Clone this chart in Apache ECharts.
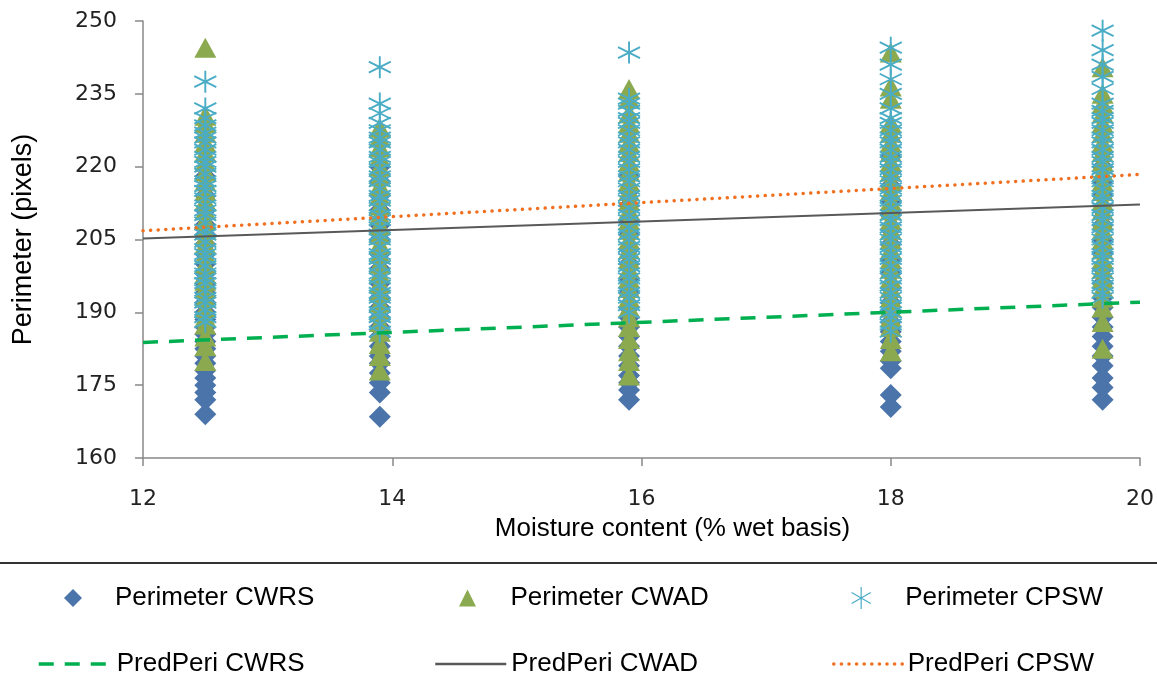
<!DOCTYPE html>
<html>
<head>
<meta charset="utf-8">
<script src="https://cdn.jsdelivr.net/npm/echarts@6/dist/echarts.min.js"></script>
<style>
  html, body { margin: 0; padding: 0; background: #fff; }
  #chart { width: 1157px; height: 675px; }
</style>
</head>
<body>
<div id="chart"></div>
<script>
// moisture levels (% wet basis) where the kernels were measured
const moistureLevels = [12.5, 13.9, 15.9, 18.0, 19.7]

// perimeter readings (pixels), one list per moisture level
const perimeterCWRS = [
  [169, 172, 173.5, 175, 176.5, 178, 179.5, 181, 182.5, 184, 185.5, 187, 188.5, 190, 192, 194, 196, 198, 200, 202, 204, 206, 208, 211, 214, 218],
  [168.5, 173.5, 175.5, 177.5, 179.5, 181, 183, 185, 187, 189, 191, 193, 196, 199, 202, 205, 208, 211, 214, 217, 220],
  [172, 174, 175.5, 177, 179, 181, 183, 185, 187, 189, 191, 194, 197, 200, 203, 206, 209, 212, 215, 218],
  [170.5, 173, 178.5, 180, 182, 184, 186, 188, 190, 192, 195, 198, 201, 204, 207, 210, 213, 216, 219, 222],
  [172, 174.5, 176.5, 179, 181, 183, 185, 187, 189, 191, 193, 196, 199, 202, 205, 208, 211, 214, 217, 220, 223],
]
const perimeterCWAD = [
  [180, 183, 185, 187.5, 189, 191, 193, 195, 196.5, 198, 200, 202, 204, 205.5, 207, 209, 211, 213, 215, 217, 219, 221, 223, 225, 227, 229, 230.5, 244.5],
  [178, 181, 183.5, 186, 188, 190, 192, 194, 196, 198, 200, 202, 204, 206, 208, 210, 212, 214, 216, 218, 220, 222, 224, 226, 228],
  [177, 180, 182, 184.5, 187, 189, 191, 193, 195, 197, 199, 201, 203, 205, 207, 209, 211, 213, 215, 217, 219, 221, 223, 225, 227, 229, 231, 234, 236],
  [182, 184.5, 187, 189, 191, 193, 195, 197, 199, 201, 203, 205, 207, 209, 211, 213, 215, 217, 219, 221, 223, 225, 227, 229, 234, 236.5, 243.5],
  [182.5, 188, 191, 193, 195, 197, 199, 201, 203, 205, 207, 209, 211, 213, 215, 217, 219, 221, 223, 225, 227, 229, 231, 233, 235, 240.5],
]
const perimeterCPSW = [
  [188, 189, 190.5, 192, 193, 194.5, 196, 197, 198, 199.5, 201, 202, 203, 204.5, 206, 207, 208.5, 210, 211, 212, 213.5, 215, 216, 217, 218.5, 220, 221, 222, 223.5, 225, 226, 227, 228.5, 230, 232, 237.5],
  [186, 187.5, 189, 190, 191.5, 193, 194, 195.5, 197, 198, 199.5, 201, 202, 203.5, 205, 206, 207.5, 209, 210, 211.5, 213, 214, 215.5, 217, 218, 219.5, 221, 222, 223.5, 225, 226, 227.5, 229, 231, 233, 240.5],
  [190, 191.5, 193, 194, 195.5, 197, 198, 199.5, 201, 202, 203.5, 205, 206, 207.5, 209, 210, 211.5, 213, 214, 215.5, 217, 218, 219.5, 221, 222, 223.5, 225, 226, 227.5, 229, 230, 231.5, 233, 234, 243.5],
  [186, 187.5, 189, 190, 191.5, 193, 194, 195.5, 197, 198, 199.5, 201, 202, 203.5, 205, 206, 207.5, 209, 210, 211.5, 213, 214, 215.5, 217, 218, 219.5, 221, 222, 223.5, 225, 226, 227.5, 229, 230, 232, 235, 238, 241, 244.5],
  [193, 194, 195.5, 197, 198, 199.5, 201, 202, 203.5, 205, 206, 207.5, 209, 210, 211.5, 213, 214, 215.5, 217, 218, 219.5, 221, 222, 223.5, 225, 226, 227.5, 229, 230, 231.5, 233, 236, 238.5, 241, 244, 248],
]

// fitted lines, value at moisture 12 and 20
const predRange = [12, 20]
const predCWRS = [183.8, 192.1]
const predCWAD = [205.2, 212.2]
const predCPSW = [206.8, 218.4]

const xTicks = { min: 12, max: 20, step: 2 }
const yTicks = { min: 160, max: 250, step: 15 }

const toPoints = (lists) => {
  const pts = []
  lists.forEach((list, i) => {
    list.forEach((v) => pts.push([moistureLevels[i], v]))
  })
  return pts
}
const toLine = (vals) => vals.map((v, i) => [predRange[i], v])

const DIAMOND = 'path://M0,-10L10,0L0,10L-10,0Z'
const TRIANGLE = 'path://M0,-10L10,10L-10,10Z'
const STAR = 'path://M0,-10L0,10M-8.7,-5L8.7,5M-8.7,5L8.7,-5'

const blue = '#4A74AA'
const olive = '#8BA94F'
const teal = '#4BACC6'
const green = '#00B050'
const grey = '#595959'
const orange = '#F07020'

const labelFont = 'Liberation Sans'
const axisColor = '#888888'

const legendBase = {
  orient: 'horizontal',
  padding: 0,
  selectedMode: false,
  textStyle: { fontFamily: labelFont, fontSize: 26, color: '#000' },
}
const makeLegend = (name, left, top, w, h, extra) =>
  Object.assign({}, legendBase, {
    left, top, itemWidth: w, itemHeight: h,
    data: [Object.assign({ name }, extra || {})],
  })
const lineKey = (width) => ({ itemStyle: { opacity: 0 }, lineStyle: { width } })

const chart = echarts.init(document.getElementById('chart'))

chart.setOption({
  animation: false,
  backgroundColor: '#fff',
  grid: { left: 143, right: 17, top: 21, bottom: 217 },
  xAxis: {
    type: 'value',
    min: xTicks.min,
    max: xTicks.max,
    interval: xTicks.step,
    name: 'Moisture content (% wet basis)',
    nameLocation: 'middle',
    nameGap: 58,
    nameTextStyle: { fontFamily: labelFont, fontSize: 26, color: '#000', padding: [0, 0, 0, 62] },
    axisLine: { lineStyle: { color: axisColor, width: 1.5 } },
    axisTick: { show: true, length: 8, lineStyle: { color: axisColor, width: 1.5 } },
    axisLabel: { margin: 30, fontFamily: 'DejaVu Sans', fontSize: 22, color: '#222' },
    splitLine: { show: false },
  },
  yAxis: {
    type: 'value',
    min: yTicks.min,
    max: yTicks.max,
    interval: yTicks.step,
    name: 'Perimeter (pixels)',
    nameLocation: 'middle',
    nameGap: 106,
    nameTextStyle: { fontFamily: labelFont, fontSize: 27, color: '#000' },
    axisLine: { show: true, lineStyle: { color: axisColor, width: 1.5 } },
    axisTick: { show: true, length: 8, lineStyle: { color: axisColor, width: 1.5 } },
    axisLabel: { margin: 26, fontFamily: 'DejaVu Sans', fontSize: 22, color: '#222' },
    splitLine: { show: false },
  },
  legend: [
    makeLegend('Perimeter CWRS', 64, 585, 74, 18, { icon: DIAMOND, itemStyle: { color: blue, borderWidth: 0 } }),
    makeLegend('Perimeter CWAD', 459, 585, 76, 17, { icon: TRIANGLE, itemStyle: { color: olive, borderWidth: 0 } }),
    makeLegend('Perimeter CPSW', 851, 585, 78, 22, { icon: STAR, itemStyle: { color: 'rgba(0,0,0,0)', borderColor: teal, borderWidth: 1.2 } }),
    makeLegend('PredPeri CWRS', 37, 651, 73, 14, lineKey(3.5)),
    makeLegend('PredPeri CWAD', 434, 651, 71, 14, lineKey(2.5)),
    makeLegend('PredPeri CPSW', 832, 651, 69, 14, lineKey(3.5)),
  ],
  graphic: [
    {
      type: 'line',
      shape: { x1: 0, y1: 563, x2: 1157, y2: 563 },
      style: { stroke: '#333', lineWidth: 2 },
      silent: true,
    },
  ],
  series: [
    {
      name: 'Perimeter CWRS',
      type: 'scatter',
      symbol: DIAMOND,
      symbolSize: 22,
      itemStyle: { color: blue, opacity: 1 },
      data: toPoints(perimeterCWRS),
    },
    {
      name: 'Perimeter CWAD',
      type: 'scatter',
      symbol: TRIANGLE,
      symbolSize: [22, 20],
      itemStyle: { color: olive, opacity: 1 },
      data: toPoints(perimeterCWAD),
    },
    {
      name: 'Perimeter CPSW',
      type: 'scatter',
      symbol: STAR,
      symbolSize: 22,
      itemStyle: { color: 'rgba(0,0,0,0)', borderColor: teal, borderWidth: 1.9, opacity: 1 },
      data: toPoints(perimeterCPSW),
    },
    {
      name: 'PredPeri CWRS',
      type: 'line',
      symbol: 'none',
      itemStyle: { color: green },
      lineStyle: { color: green, width: 3.5, type: [15, 11] },
      data: toLine(predCWRS),
      z: 3,
    },
    {
      name: 'PredPeri CWAD',
      type: 'line',
      symbol: 'none',
      itemStyle: { color: grey },
      lineStyle: { color: grey, width: 2 },
      data: toLine(predCWAD),
      z: 3,
    },
    {
      name: 'PredPeri CPSW',
      type: 'line',
      symbol: 'none',
      itemStyle: { color: orange },
      lineStyle: { color: orange, width: 3.5, type: [0.1, 7.5], cap: 'round' },
      data: toLine(predCPSW),
      z: 3,
    },
  ],
})
</script>
</body>
</html>
